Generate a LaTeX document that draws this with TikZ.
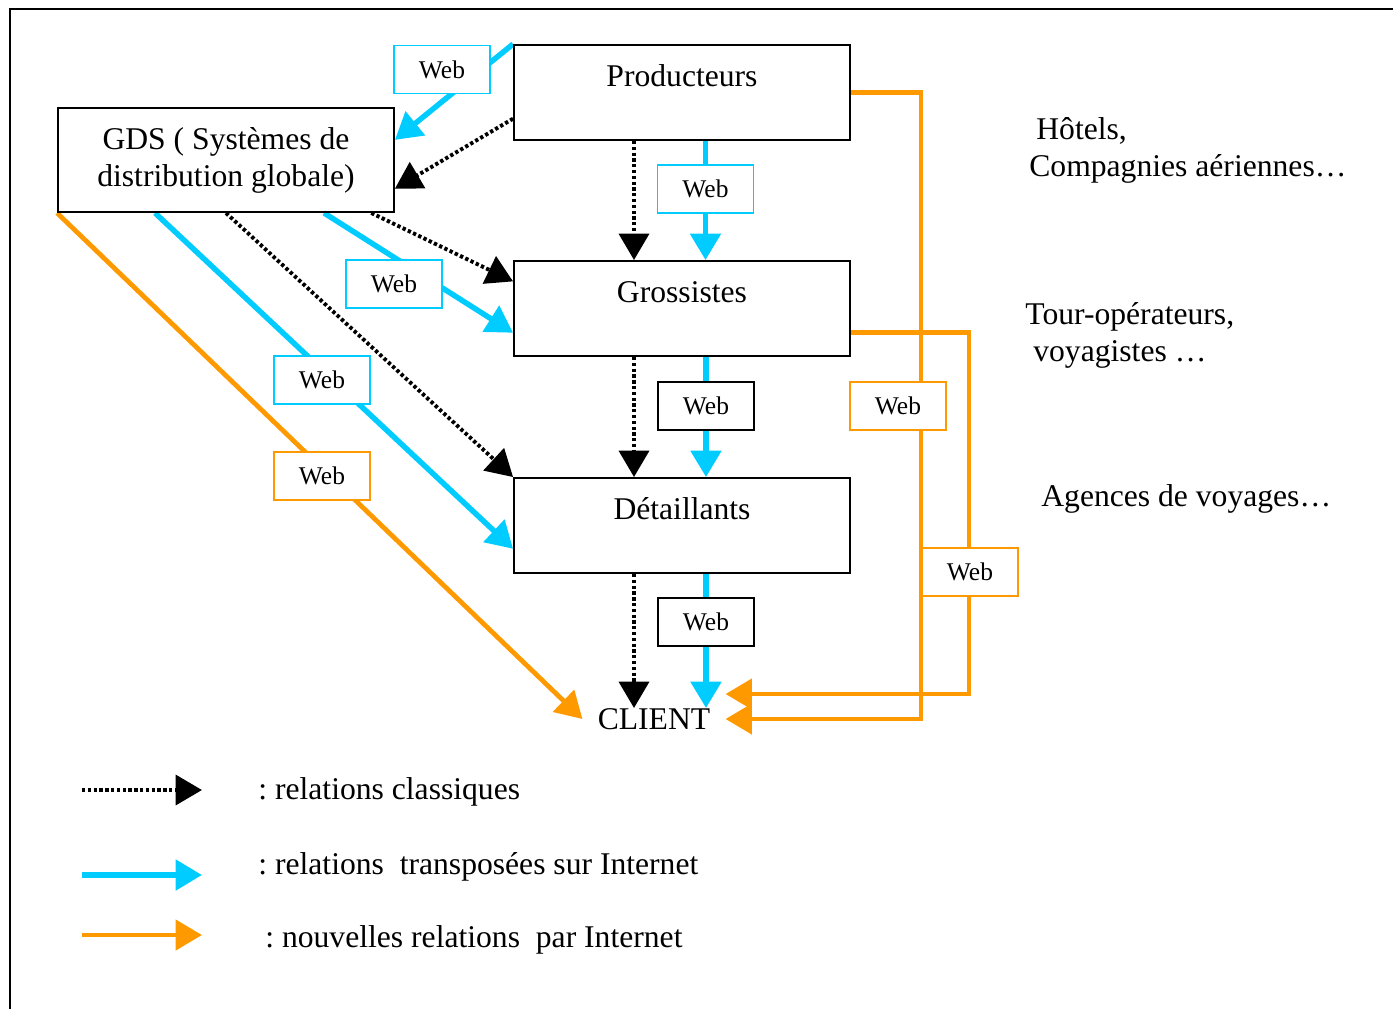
\documentclass[tikz,border=0pt]{standalone}
\usepackage{fontspec}
\setmainfont{Liberation Serif}
\usepackage{tikz}
\usetikzlibrary{arrows.meta,calc,backgrounds}
\definecolor{webcyan}{RGB}{0,204,255}
\definecolor{weborange}{RGB}{255,153,0}
\frenchspacing
\tikzset{
  actor/.style = {rectangle, draw=black, line width=1.1pt, inner sep=0pt,
    align=center, text width=6.72cm, text height=0.83cm, text depth=1.07cm,
    font=\fontsize{18}{21}\selectfont},% acteur, texte en haut
  gdsbox/.style = {rectangle, draw=black, line width=1.1pt, inner sep=0pt,
    align=center, minimum width=6.72cm, minimum height=2.08cm,
    font=\fontsize{18}{21}\selectfont},
  web/.style = {rectangle, fill=white, line width=0.9pt, inner sep=0pt,
    minimum width=1.92cm, minimum height=0.96cm,
    font=\fontsize{14.5}{17}\selectfont},
  webc/.style = {web, draw=webcyan},% web, relation transposee
  webo/.style = {web, draw=weborange},% web, nouvelle relation
  webn/.style = {web, draw=black},
  classic/.style = {black, line width=2.2pt, dash pattern=on 1.9pt off 1.4pt,
    -{Triangle[length=15pt,width=17pt]}},
  transp/.style = {webcyan, line width=3.1pt,
    -{Triangle[length=15pt,width=17pt]}},
  nouv/.style = {weborange, line width=2.7pt,
    -{Triangle[length=15pt,width=17pt]}},
  txt/.style = {inner sep=0pt, anchor=west, align=left,
    font=\fontsize{18}{21}\selectfont}
}

\begin{document}
\begin{tikzpicture}[x=0.02cm, y=-0.02cm]
  \useasboundingbox (0,0) rectangle (1393,1009);
  \draw[line width=1.1pt] (10,1009) -- (10,9) -- (1393,9);

  % acteurs
  \node [actor] (prod) at (682,92.5) {Producteurs};
  \node [actor] (gros) at (682,308.5) {Grossistes};
  \node [actor] (det) at (682,525.5) {Détaillants};
  \node [gdsbox] (gds) at (226,160) {GDS ( Systèmes de\\distribution globale)};
  \node [inner xsep=0.3cm, inner ysep=0pt, font=\fontsize{18}{21}\selectfont]
    (client) at (654,719) {CLIENT};

  % web
  \node [webc] (w1) at (442,69.5) {Web};
  \node [webc] (w2) at (705.5,189) {Web};
  \node [webc] (w3) at (394,284) {Web};
  \node [webc] (w4) at (322,380) {Web};
  \node [webo] (w5) at (322,476) {Web};
  \node [webn] (w6) at (706,406) {Web};
  \node [webn] (w7) at (706,622) {Web};
  \node [webo] (w8) at (898,406) {Web};
  \node [webo] (w9) at (970,572) {Web};

  % exemples
  \node [txt] (hotels) at (1029,150) {\hspace*{0.14cm}Hôtels,\\Compagnies aériennes…};
  \node [txt] (tours) at (1025,335) {Tour-opérateurs,\\\hspace*{0.16cm}voyagistes …};
  \node [txt] (agences) at (1041,499) {Agences de voyages…};

  % legende
  \node [txt] (leg1) at (258,792) {: relations classiques};
  \node [txt] (leg2) at (258,867) {: relations\ \ transposées sur Internet};
  \node [txt] (leg3) at (265,940) {: nouvelles relations\ \ par Internet};
  \coordinate (l1) at (82,790);  \coordinate (l1e) at (202,790);
  \coordinate (l2) at (82,875);  \coordinate (l2e) at (202,875);
  \coordinate (l3) at (82,935);  \coordinate (l3e) at (202,935);
  \draw [classic] (l1) -- (l1e);
  \draw [transp] (l2) -- (l2e);
  \draw [nouv] (l3) -- (l3e);

  \coordinate (dots) at (634,0);
  \coordinate (o1) at (921,0);
  \coordinate (o2) at (969,0);
  \coordinate (cin) at ([yshift=0.5cm]client.east);

  \begin{scope}[on background layer]
    % producteurs
    \draw [transp] (prod.north west) -- ($(gds.north east)!0.31!(gds.south east)$);
    \draw [classic] ($(prod.north west)!0.77!(prod.south west)$)
      -- ($(gds.north east)!0.77!(gds.south east)$);
    \draw [classic] (prod.south -| dots) -- (gros.north -| dots);
    \draw [transp] (prod.south -| w2) -- (gros.north -| w2);
    \draw [nouv] (prod.east) -| (o1 |- client.east) -- (client.east);
    % GDS
    \draw [classic] ($(gds.south west)!0.93!(gds.south east)$)
      -- ($(gros.north west)!0.22!(gros.south west)$);
    \draw [transp] ($(gds.south west)!0.79!(gds.south east)$)
      -- ($(gros.north west)!0.75!(gros.south west)$);
    \draw [classic] (gds.south) -- (det.north west);
    \draw [transp] ($(gds.south west)!0.29!(gds.south east)$)
      -- ($(det.north west)!0.74!(det.south west)$);
    \draw [nouv] (gds.south west) -- (client.west);
    % grossistes
    \draw [classic] (gros.south -| dots) -- (det.north -| dots);
    \draw [transp] (gros.south -| w6) -- (det.north -| w6);
    \draw [nouv] ($(gros.north east)!0.75!(gros.south east)$) -| (o2 |- cin) -- (cin);
    % detaillants
    \draw [classic] (det.south -| dots) -- (client.north -| dots);
    \draw [transp] (det.south -| w7) -- (client.north -| w7);
  \end{scope}
\end{tikzpicture}
\end{document}
